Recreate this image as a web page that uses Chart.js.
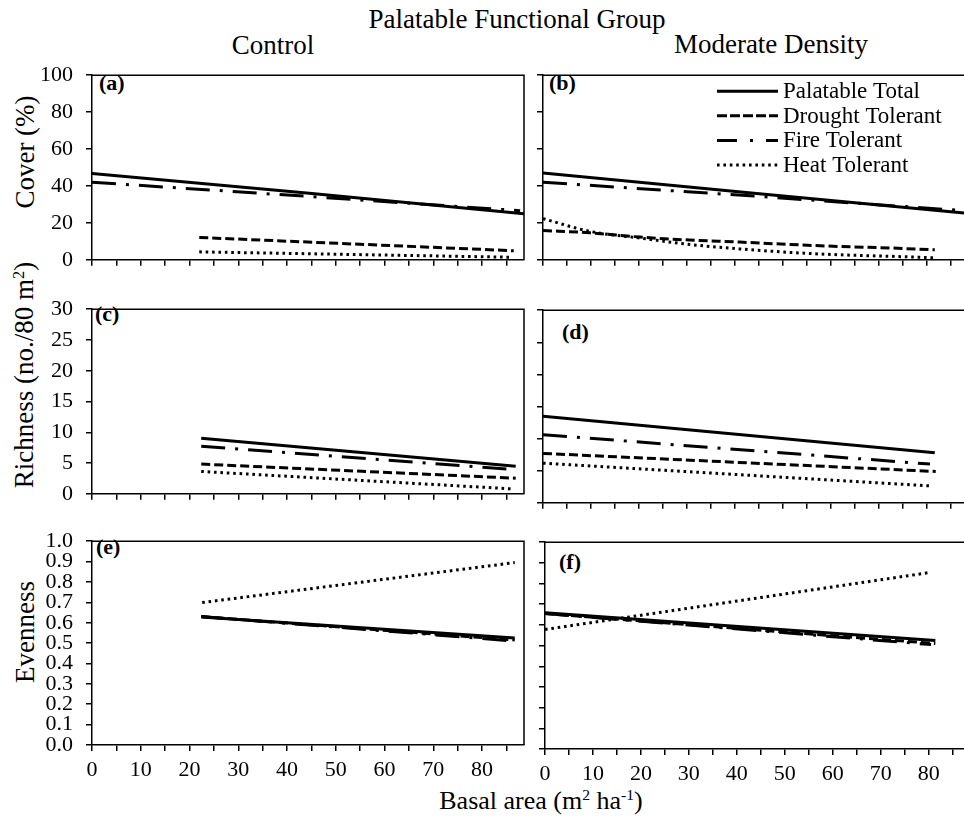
<!DOCTYPE html>
<html>
<head>
<meta charset="utf-8">
<script src="https://cdn.jsdelivr.net/npm/chart.js@4.4.1/dist/chart.umd.min.js"></script>
<style>
  html, body { margin: 0; padding: 0; background: #fff; }
  body { width: 964px; height: 819px; position: relative; overflow: hidden; font-family: 'Liberation Serif', 'Times New Roman', serif; color: #000; }
  .panel { position: absolute; }
  .txt { position: absolute; white-space: nowrap; line-height: 1; transform: translate(-50%, -50%); }
  .vtxt { position: absolute; white-space: nowrap; line-height: 1; transform: translate(-50%, -50%) rotate(-90deg); }
  .tag { position: absolute; white-space: nowrap; font-weight: bold; font-size: 22px; line-height: 1; transform: translateY(-50%); }
  sup { font-size: 0.6em; line-height: 0; vertical-align: 0.55em; }
</style>
</head>
<body>
<div class="txt" style="left:517px;top:19px;font-size:27px">Palatable Functional Group</div>
<div class="txt" style="left:273px;top:45px;font-size:27px">Control</div>
<div class="txt" style="left:771px;top:44px;font-size:27px">Moderate Density</div>
<div class="vtxt" style="left:25px;top:152px;font-size:27px">Cover (%)</div>
<div class="vtxt" style="left:24px;top:375px;font-size:27px">Richness (no./80 m<sup>2</sup>)</div>
<div class="vtxt" style="left:25px;top:632px;font-size:27px">Evenness</div>
<div class="txt" style="left:541px;top:801px;font-size:26px">Basal area (m<sup>2</sup> ha<sup>-1</sup>)</div>
<div class="tag" style="left:99px;top:83px">(a)</div>
<div class="tag" style="left:549px;top:83px">(b)</div>
<div class="tag" style="left:95px;top:314px">(c)</div>
<div class="tag" style="left:562px;top:332px">(d)</div>
<div class="tag" style="left:96px;top:547px">(e)</div>
<div class="tag" style="left:559px;top:562px">(f)</div>

<script>
// Données
const groups = ['Palatable Total', 'Drought Tolerant', 'Fire Tolerant', 'Heat Tolerant'];

const xTicks = [0, 5, 10, 15, 20, 25, 30, 35, 40, 45, 50, 55, 60, 65, 70, 75, 80, 85];
const xTickLabels = [0, 10, 20, 30, 40, 50, 60, 70, 80];
const coverTicks = [0, 20, 40, 60, 80, 100];
const richnessTicks = [0, 5, 10, 15, 20, 25, 30];
const evennessTicks = [0, 0.1, 0.2, 0.3, 0.4, 0.5, 0.6, 0.7, 0.8, 0.9, 1.0];

// (a) Control - cover
const coverControlTotal = [[0, 46.8], [44, 36.2], [88.6, 25.0]];
const coverControlDrought = [[22, 12.1], [86.5, 4.9]];
const coverControlFire = [[0, 42.0], [44, 34.4], [87.8, 26.6]];
const coverControlHeat = [[22, 4.3], [85.8, 1.4]];

// (b) Moderate density - cover
const coverModerateTotal = [[0, 47.0], [44, 36.0], [87.8, 25.3]];
const coverModerateDrought = [[0, 15.9], [9.8, 14.6], [20.2, 12.3], [30.6, 10.7], [41, 9.6], [51.5, 8.3], [61.9, 7.2], [72.3, 6.4], [81.7, 5.4]];
const coverModerateFire = [[0, 42.0], [44, 34.5], [87.8, 26.6]];
const coverModerateHeat = [[0, 22.3], [9.8, 15.4], [20.2, 11.8], [30.6, 8.3], [41, 5.9], [51.5, 4.0], [61.9, 2.7], [72.3, 1.9], [81.7, 1.1]];

// (c) Control - richness
const richControlTotal = [[22.4, 9.03], [86.9, 4.49]];
const richControlDrought = [[22.4, 4.83], [86.9, 2.53]];
const richControlFire = [[22.4, 7.74], [86.9, 3.92]];
const richControlHeat = [[22.4, 3.63], [85.9, 0.81]];

// (d) Moderate density - richness
const richModerateTotal = [[0, 13.5], [81.7, 7.78]];
const richModerateDrought = [[0, 7.69], [81.9, 4.88]];
const richModerateFire = [[0, 10.6], [80.7, 6.03]];
const richModerateHeat = [[0, 6.17], [81.0, 2.62]];

// (e) Control - evenness
const evenControlTotal = [[22.4, 0.628], [86.7, 0.525]];
const evenControlDrought = [[22.4, 0.630], [86.7, 0.515]];
const evenControlFire = [[22.4, 0.630], [86.7, 0.510]];
const evenControlHeat = [[22.6, 0.699], [86.7, 0.895]];

// (f) Moderate density - evenness
const evenModerateTotal = [[0, 0.659], [81.4, 0.525]];
const evenModerateDrought = [[0, 0.655], [81.4, 0.510]];
const evenModerateFire = [[0, 0.655], [80.5, 0.505]];
const evenModerateHeat = [[0, 0.578], [80.4, 0.854]];

// Styles des lignes (même ordre que groups)
const lineStyles = [
    { dash: [], legendDash: [] },
    { dash: [9, 4], legendDash: [10, 3] },
    { dash: [24, 10, 3, 10], legendDash: [20, 13, 3, 13] },
    { dash: [2.6, 3.8], legendDash: [2.6, 3.8] }
];

Chart.defaults.font.family = "'Liberation Serif', 'Times New Roman', serif";
Chart.defaults.font.size = 22;
Chart.defaults.color = '#000';

// Cadre haut / droite du graphique
const framePlugin = {
    id: 'frame',
    afterDraw(chart) {
        const { ctx, chartArea: a } = chart;
        ctx.save();
        ctx.strokeStyle = '#000';
        ctx.lineWidth = 1.5;
        ctx.beginPath();
        ctx.moveTo(a.left, a.top);
        ctx.lineTo(a.right, a.top);
        ctx.lineTo(a.right, a.bottom);
        ctx.stroke();
        ctx.restore();
    }
};

// Légende dessinée dans le panneau (b)
const innerLegend = {
    id: 'innerLegend',
    afterDraw(chart) {
        const { ctx, chartArea: a } = chart;
        ctx.save();
        ctx.font = "23px 'Liberation Serif', 'Times New Roman', serif";
        ctx.fillStyle = '#000';
        ctx.textBaseline = 'middle';
        groups.forEach((g, i) => {
            const y = a.top + 16 + i * 24.6;
            ctx.strokeStyle = '#000';
            ctx.lineWidth = 3;
            ctx.setLineDash(lineStyles[i].legendDash);
            ctx.beginPath();
            ctx.moveTo(a.left + 174, y);
            ctx.lineTo(a.left + 235, y);
            ctx.stroke();
            ctx.setLineDash([]);
            ctx.fillText(g, a.left + 240, y + 1);
        });
        ctx.restore();
    }
};

const panels = [
    { series: [coverControlTotal, coverControlDrought, coverControlFire, coverControlHeat], yTicks: coverTicks, yMax: 100, digits: 0,
      left: 92, top: 63, right: 524, bottom: 272, xMax: 88.6, yLabels: true, xLabels: false, legend: false },
    { series: [coverModerateTotal, coverModerateDrought, coverModerateFire, coverModerateHeat], yTicks: coverTicks, yMax: 100, digits: 0,
      left: 543, top: 63, right: 965, bottom: 272, xMax: 88, yLabels: false, xLabels: false, legend: true },
    { series: [richControlTotal, richControlDrought, richControlFire, richControlHeat], yTicks: richnessTicks, yMax: 30, digits: 0,
      left: 92, top: 297, right: 524, bottom: 506, xMax: 88.6, yLabels: true, xLabels: false, legend: false },
    { series: [richModerateTotal, richModerateDrought, richModerateFire, richModerateHeat], yTicks: richnessTicks, yMax: 30, digits: 0,
      left: 543, top: 298, right: 965, bottom: 515, xMax: 88, yLabels: false, xLabels: false, legend: false },
    { series: [evenControlTotal, evenControlDrought, evenControlFire, evenControlHeat], yTicks: evennessTicks, yMax: 1, digits: 1,
      left: 92, top: 529, right: 524, bottom: 745, xMax: 88.6, yLabels: true, xLabels: true, legend: false },
    { series: [evenModerateTotal, evenModerateDrought, evenModerateFire, evenModerateHeat], yTicks: evennessTicks, yMax: 1, digits: 1,
      left: 545, top: 530, right: 967, bottom: 749, xMax: 88, yLabels: false, xLabels: true, legend: false }
];

// Fonction pour créer un panneau
function createPanel(p) {
    const axW = p.yLabels ? 70 : 20;
    const axH = p.xLabels ? 50 : 14;
    const padTop = 14;
    const padRight = 4;
    const w = p.right - p.left + axW + padRight;
    const h = p.bottom - p.top + padTop + axH;

    const canvas = document.createElement('canvas');
    canvas.className = 'panel';
    canvas.width = w;
    canvas.height = h;
    canvas.style.left = (p.left - axW) + 'px';
    canvas.style.top = (p.top - padTop) + 'px';
    canvas.style.width = w + 'px';
    canvas.style.height = h + 'px';
    document.body.appendChild(canvas);

    const datasets = p.series.map((s, i) => ({
        label: groups[i],
        data: s.map(pt => ({ x: pt[0], y: pt[1] })),
        showLine: true,
        borderColor: '#000',
        borderWidth: 3,
        borderDash: lineStyles[i].dash,
        pointRadius: 0,
        fill: false,
        tension: s.length > 3 ? 0.3 : 0,
        cubicInterpolationMode: s.length > 3 ? 'monotone' : 'default'
    }));

    new Chart(canvas, {
        type: 'scatter',
        data: { datasets },
        options: {
            responsive: false,
            animation: false,
            devicePixelRatio: 1,
            layout: { padding: { top: padTop, right: padRight, left: 0, bottom: 0 } },
            plugins: { legend: { display: false }, tooltip: { enabled: false } },
            scales: {
                x: {
                    type: 'linear',
                    min: 0,
                    max: p.xMax,
                    afterBuildTicks: (scale) => { scale.ticks = xTicks.map(v => ({ value: v })); },
                    afterFit: (scale) => { scale.height = axH; },
                    border: { display: true, color: '#000', width: 1.5 },
                    grid: { display: true, drawOnChartArea: false, drawTicks: true, tickLength: 6, color: '#000', lineWidth: 1.5 },
                    ticks: {
                        autoSkip: false,
                        maxRotation: 0,
                        padding: 6,
                        font: { size: 22 },
                        callback: (v) => (p.xLabels && xTickLabels.includes(v)) ? String(v) : ''
                    }
                },
                y: {
                    type: 'linear',
                    min: 0,
                    max: p.yMax,
                    afterBuildTicks: (scale) => { scale.ticks = p.yTicks.map(v => ({ value: v })); },
                    afterFit: (scale) => { scale.width = axW; },
                    border: { display: true, color: '#000', width: 1.5 },
                    grid: { display: true, drawOnChartArea: false, drawTicks: true, tickLength: 6, color: '#000', lineWidth: 1.5 },
                    ticks: {
                        autoSkip: false,
                        padding: 13,
                        font: { size: 22 },
                        callback: (v) => p.yLabels ? Number(v).toFixed(p.digits) : ''
                    }
                }
            }
        },
        plugins: p.legend ? [framePlugin, innerLegend] : [framePlugin]
    });
}

// Initialiser les graphiques quand le DOM est chargé
document.addEventListener('DOMContentLoaded', () => panels.forEach(createPanel));
</script>
</body>
</html>
